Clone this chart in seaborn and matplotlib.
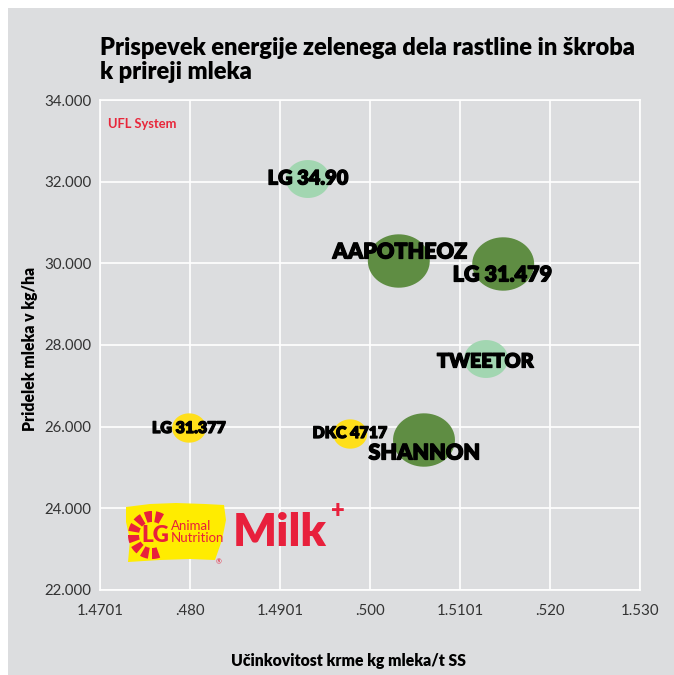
import numpy as np
import pandas as pd
import matplotlib
matplotlib.use("Agg")
import matplotlib.pyplot as plt
import matplotlib.patheffects as pe
import seaborn as sns
from matplotlib.path import Path
from matplotlib.patches import Rectangle, Polygon, Wedge

# ---------------- data ----------------
hybrids = ["LG 34.90", "AAPOTHEOZ", "LG 31.479", "TWEETOR", "LG 31.377", "DKC 4717", "SHANNON"]
efficiency = [1.4931, 1.5032, 1.5148, 1.5129, 1.4799, 1.4978, 1.5060]
milk_yield = [32065, 30057, 29984, 27657, 25967, 25820, 25673]
group = ["medium", "large", "large", "medium", "small", "small", "large"]

x_ticks = [1.47, 1.48, 1.49, 1.50, 1.51, 1.52, 1.53]
x_tick_labels = ["1.4701", ".480", "1.4901", ".500", "1.5101", ".520", "1.530"]
y_ticks = [22000, 24000, 26000, 28000, 30000, 32000, 34000]
y_tick_labels = ["22.000", "24.000", "26.000", "28.000", "30.000", "32.000", "34.000"]

title = "Prispevek energije zelenega dela rastline in škroba\nk prireji mleka"
x_label = "Učinkovitost krme kg mleka/t SS"
y_label = "Pridelek mleka v kg/ha"
note = "UFL System"

df = pd.DataFrame({"hybrid": hybrids, "x": efficiency, "y": milk_yield, "group": group})

# ---------------- style ----------------
BG = "#dcdddf"
palette = {"small": "#ffdf1a", "medium": "#a2d6b1", "large": "#5f8d43"}
sizes = {"small": 600, "medium": 1004, "large": 1990}
label_fs = {"LG 34.90": 14.4, "AAPOTHEOZ": 15.5, "LG 31.479": 15.5, "TWEETOR": 14.2,
            "LG 31.377": 11.5, "DKC 4717": 11.5, "SHANNON": 15.5}
# label offsets in pixels (dx, dy downward)
offsets = {"LG 34.90": (0, -1), "AAPOTHEOZ": (1, -9), "LG 31.479": (-1, 11),
           "TWEETOR": (-1, 2), "LG 31.377": (0, 0), "DKC 4717": (0, -1), "SHANNON": (0, 13)}

sns.set_theme(style="white")
plt.rcParams["font.family"] = ["Lato", "DejaVu Sans"]

W, H = 674, 675
fig = plt.figure(figsize=(W / 100, H / 100), dpi=100, facecolor="white")
fig.patches.append(Rectangle((8 / W, 0), 1 - 8 / W, 1 - 8 / H, transform=fig.transFigure,
                             facecolor=BG, edgecolor="none", zorder=-10))

ax = fig.add_axes([100 / W, 1 - 590 / H, 540 / W, 490 / H])
ax.set_facecolor(BG)

# ellipse marker
t = np.linspace(0, 2 * np.pi, 64)
ell = Path(np.column_stack([1.16 * np.cos(t), np.sin(t)]), closed=True)

sns.scatterplot(data=df, x="x", y="y", hue="group", size="group", palette=palette,
                sizes=sizes, marker=ell, linewidth=0, alpha=1, legend=False, ax=ax, zorder=3)

heavy = [pe.withStroke(linewidth=0.9, foreground="black")]
for _, r in df.iterrows():
    dx, dy = offsets[r["hybrid"]]
    ax.annotate(r["hybrid"], (r["x"], r["y"]), xytext=(dx * 0.72, -dy * 0.72),
                textcoords="offset points", ha="center", va="center",
                fontsize=label_fs[r["hybrid"]], fontweight="heavy", color="black", zorder=5,
                path_effects=heavy)

ax.set_xlim(1.47, 1.53)
ax.set_ylim(22000, 34000)
ax.set_xticks(x_ticks)
ax.set_xticklabels(x_tick_labels)
ax.set_yticks(y_ticks)
ax.set_yticklabels(y_tick_labels)
ax.tick_params(axis="both", length=0, labelsize=10.8, labelcolor="#333333")
ax.tick_params(axis="x", pad=10)
ax.tick_params(axis="y", pad=6)
ax.grid(True, color="white", linewidth=1.2)
ax.set_axisbelow(True)
for s in ax.spines.values():
    s.set_color("white")
    s.set_linewidth(1.2)

ax.set_xlabel("")
ax.set_ylabel("")
fig.text(349 / W, 1 - 661 / H, x_label, ha="center", va="center", fontsize=11.3,
         fontweight="heavy", color="black")
fig.text(30 / W, 1 - 349 / H, y_label, ha="center", va="center", rotation=90,
         fontsize=11.3, fontweight="heavy", color="black")
fig.text(100 / W, 1 - 60 / H, title, ha="left", va="center", fontsize=17.0,
         fontweight="heavy", color="black", linespacing=1.13)
fig.text(108 / W, 1 - 124 / H, note, ha="left", va="center", fontsize=9.3,
         fontweight="bold", color="#e8263a")

# ---------------- logo ----------------
def fx(px):
    return px / W

def fy(py):
    return 1 - py / H

yellow = "#ffec00"
red = "#e8203c"
blob = [(126, 507), (150, 504), (176, 503), (205, 504), (224, 505), (226, 520), (222, 540),
        (215, 560), (190, 559), (160, 560), (128, 562), (130, 540), (126, 522)]
fig.patches.append(Polygon([(fx(a), fy(b)) for a, b in blob], closed=True, transform=fig.transFigure,
                           facecolor=yellow, edgecolor="none", zorder=1))
# sun rays
cx, cy = 152, 535
for ang in np.arange(70, 291, 30):
    fig.patches.append(Wedge((fx(cx), fy(cy)), 24 / W, ang - 10, ang + 10, width=11 / W,
                             transform=fig.transFigure, facecolor=red, edgecolor="none", zorder=2))
fig.text(fx(155), fy(535), "LG", ha="center", va="center", fontsize=16, fontweight="heavy",
         color=red, zorder=3)
fig.text(fx(171), fy(532), "Animal\nNutrition", ha="left", va="center", fontsize=9.5,
         color=red, linespacing=0.95, zorder=3)
fig.text(fx(219), fy(562), "®", ha="center", va="center", fontsize=5, color=red, zorder=3)
fig.text(fx(233), fy(533), "Milk", ha="left", va="center", fontsize=33, fontweight="heavy",
         color=red, zorder=3)
fig.text(fx(338), fy(511), "+", ha="center", va="center", fontsize=17, fontweight="heavy",
         color=red, zorder=3)

fig.savefig("out.png", dpi=100, facecolor="white")
